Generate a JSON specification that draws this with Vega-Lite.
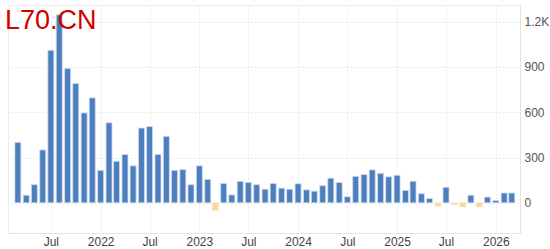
{
  "$schema": "https://vega.github.io/schema/vega-lite/v6.json",
  "autosize": {"type": "none"},
  "width": 512,
  "height": 228,
  "padding": {"left": 8, "top": 5, "right": 30, "bottom": 16},
  "background": "#ffffff",
  "config": {
    "view": {"stroke": "#ececec", "strokeWidth": 1},
    "font": "Liberation Sans"
  },
  "title": {
    "text": "L70.CN",
    "anchor": "start",
    "frame": "group",
    "baseline": "top",
    "orient": "top",
    "offset": 0,
    "dx": -3,
    "dy": 30,
    "fontSize": 27,
    "fontWeight": "normal",
    "font": "Liberation Sans",
    "color": "#d00000"
  },
  "data": {
    "values": [
      {"date": "2021-03-01T00:00:00", "value": 400},
      {"date": "2021-04-01T00:00:00", "value": 50},
      {"date": "2021-05-01T00:00:00", "value": 120},
      {"date": "2021-06-01T00:00:00", "value": 350},
      {"date": "2021-07-01T00:00:00", "value": 1010},
      {"date": "2021-08-01T00:00:00", "value": 1245},
      {"date": "2021-09-01T00:00:00", "value": 890},
      {"date": "2021-10-01T00:00:00", "value": 790},
      {"date": "2021-11-01T00:00:00", "value": 595},
      {"date": "2021-12-01T00:00:00", "value": 695},
      {"date": "2022-01-01T00:00:00", "value": 215},
      {"date": "2022-02-01T00:00:00", "value": 530},
      {"date": "2022-03-01T00:00:00", "value": 275},
      {"date": "2022-04-01T00:00:00", "value": 320},
      {"date": "2022-05-01T00:00:00", "value": 245},
      {"date": "2022-06-01T00:00:00", "value": 495},
      {"date": "2022-07-01T00:00:00", "value": 505},
      {"date": "2022-08-01T00:00:00", "value": 320},
      {"date": "2022-09-01T00:00:00", "value": 440},
      {"date": "2022-10-01T00:00:00", "value": 215},
      {"date": "2022-11-01T00:00:00", "value": 220},
      {"date": "2022-12-01T00:00:00", "value": 120},
      {"date": "2023-01-01T00:00:00", "value": 245},
      {"date": "2023-02-01T00:00:00", "value": 155},
      {"date": "2023-03-01T00:00:00", "value": -50},
      {"date": "2023-04-01T00:00:00", "value": 128},
      {"date": "2023-05-01T00:00:00", "value": 52},
      {"date": "2023-06-01T00:00:00", "value": 142},
      {"date": "2023-07-01T00:00:00", "value": 135},
      {"date": "2023-08-01T00:00:00", "value": 120},
      {"date": "2023-09-01T00:00:00", "value": 90},
      {"date": "2023-10-01T00:00:00", "value": 128},
      {"date": "2023-11-01T00:00:00", "value": 97},
      {"date": "2023-12-01T00:00:00", "value": 90},
      {"date": "2024-01-01T00:00:00", "value": 126},
      {"date": "2024-02-01T00:00:00", "value": 86},
      {"date": "2024-03-01T00:00:00", "value": 77},
      {"date": "2024-04-01T00:00:00", "value": 113},
      {"date": "2024-05-01T00:00:00", "value": 163},
      {"date": "2024-06-01T00:00:00", "value": 134},
      {"date": "2024-07-01T00:00:00", "value": 40},
      {"date": "2024-08-01T00:00:00", "value": 175},
      {"date": "2024-09-01T00:00:00", "value": 187},
      {"date": "2024-10-01T00:00:00", "value": 218},
      {"date": "2024-11-01T00:00:00", "value": 195},
      {"date": "2024-12-01T00:00:00", "value": 172},
      {"date": "2025-01-01T00:00:00", "value": 182},
      {"date": "2025-02-01T00:00:00", "value": 82},
      {"date": "2025-03-01T00:00:00", "value": 143},
      {"date": "2025-04-01T00:00:00", "value": 60},
      {"date": "2025-05-01T00:00:00", "value": 28},
      {"date": "2025-06-01T00:00:00", "value": -22},
      {"date": "2025-07-01T00:00:00", "value": 103},
      {"date": "2025-08-01T00:00:00", "value": -13},
      {"date": "2025-09-01T00:00:00", "value": -28},
      {"date": "2025-10-01T00:00:00", "value": 50},
      {"date": "2025-11-01T00:00:00", "value": -28},
      {"date": "2025-12-01T00:00:00", "value": 38},
      {"date": "2026-01-01T00:00:00", "value": 15},
      {"date": "2026-02-01T00:00:00", "value": 65},
      {"date": "2026-03-01T00:00:00", "value": 65}
    ]
  },
  "mark": {"type": "bar", "width": 6, "strokeWidth": 0.8},
  "encoding": {
    "x": {
      "field": "date",
      "type": "temporal",
      "scale": {
        "domain": [
          {"year": 2021, "month": 2, "date": 11},
          {"year": 2026, "month": 3, "date": 13}
        ],
        "nice": false
      },
      "axis": {
        "title": null,
        "values": [
          {"year": 2021, "month": 7, "date": 1},
          {"year": 2022, "month": 1, "date": 1},
          {"year": 2022, "month": 7, "date": 1},
          {"year": 2023, "month": 1, "date": 1},
          {"year": 2023, "month": 7, "date": 1},
          {"year": 2024, "month": 1, "date": 1},
          {"year": 2024, "month": 7, "date": 1},
          {"year": 2025, "month": 1, "date": 1},
          {"year": 2025, "month": 7, "date": 1},
          {"year": 2026, "month": 1, "date": 1}
        ],
        "labelExpr": "month(datum.value) == 0 ? timeFormat(datum.value, '%Y') : 'Jul'",
        "labelFont": "Liberation Sans",
        "labelFontSize": 12,
        "labelColor": "#444444",
        "labelPadding": 3,
        "labelFlush": false,
        "ticks": false,
        "domain": true,
        "domainColor": "#e3e3e3",
        "grid": true,
        "gridColor": "#e9e9e9",
        "gridDash": [2, 2]
      }
    },
    "y": {
      "field": "value",
      "type": "quantitative",
      "scale": {"domain": [-200, 1310], "nice": false},
      "axis": {
        "title": null,
        "orient": "right",
        "values": [0, 300, 600, 900, 1200],
        "labelExpr": "datum.value >= 1000 ? format(datum.value / 1000, '.1f') + 'K' : format(datum.value, 'd')",
        "labelFont": "Liberation Sans",
        "labelFontSize": 12,
        "labelColor": "#555555",
        "labelPadding": 4,
        "ticks": false,
        "domain": true,
        "domainColor": "#e3e3e3",
        "grid": true,
        "gridColor": "#e9e9e9",
        "gridDash": [2, 2]
      }
    },
    "color": {
      "condition": {"test": "datum.value < 0", "value": "#f7d7a0"},
      "value": "#4d7fbf"
    },
    "stroke": {
      "condition": {"test": "datum.value < 0", "value": "#fbe6c4"},
      "value": "#cfdcee"
    }
  }
}
